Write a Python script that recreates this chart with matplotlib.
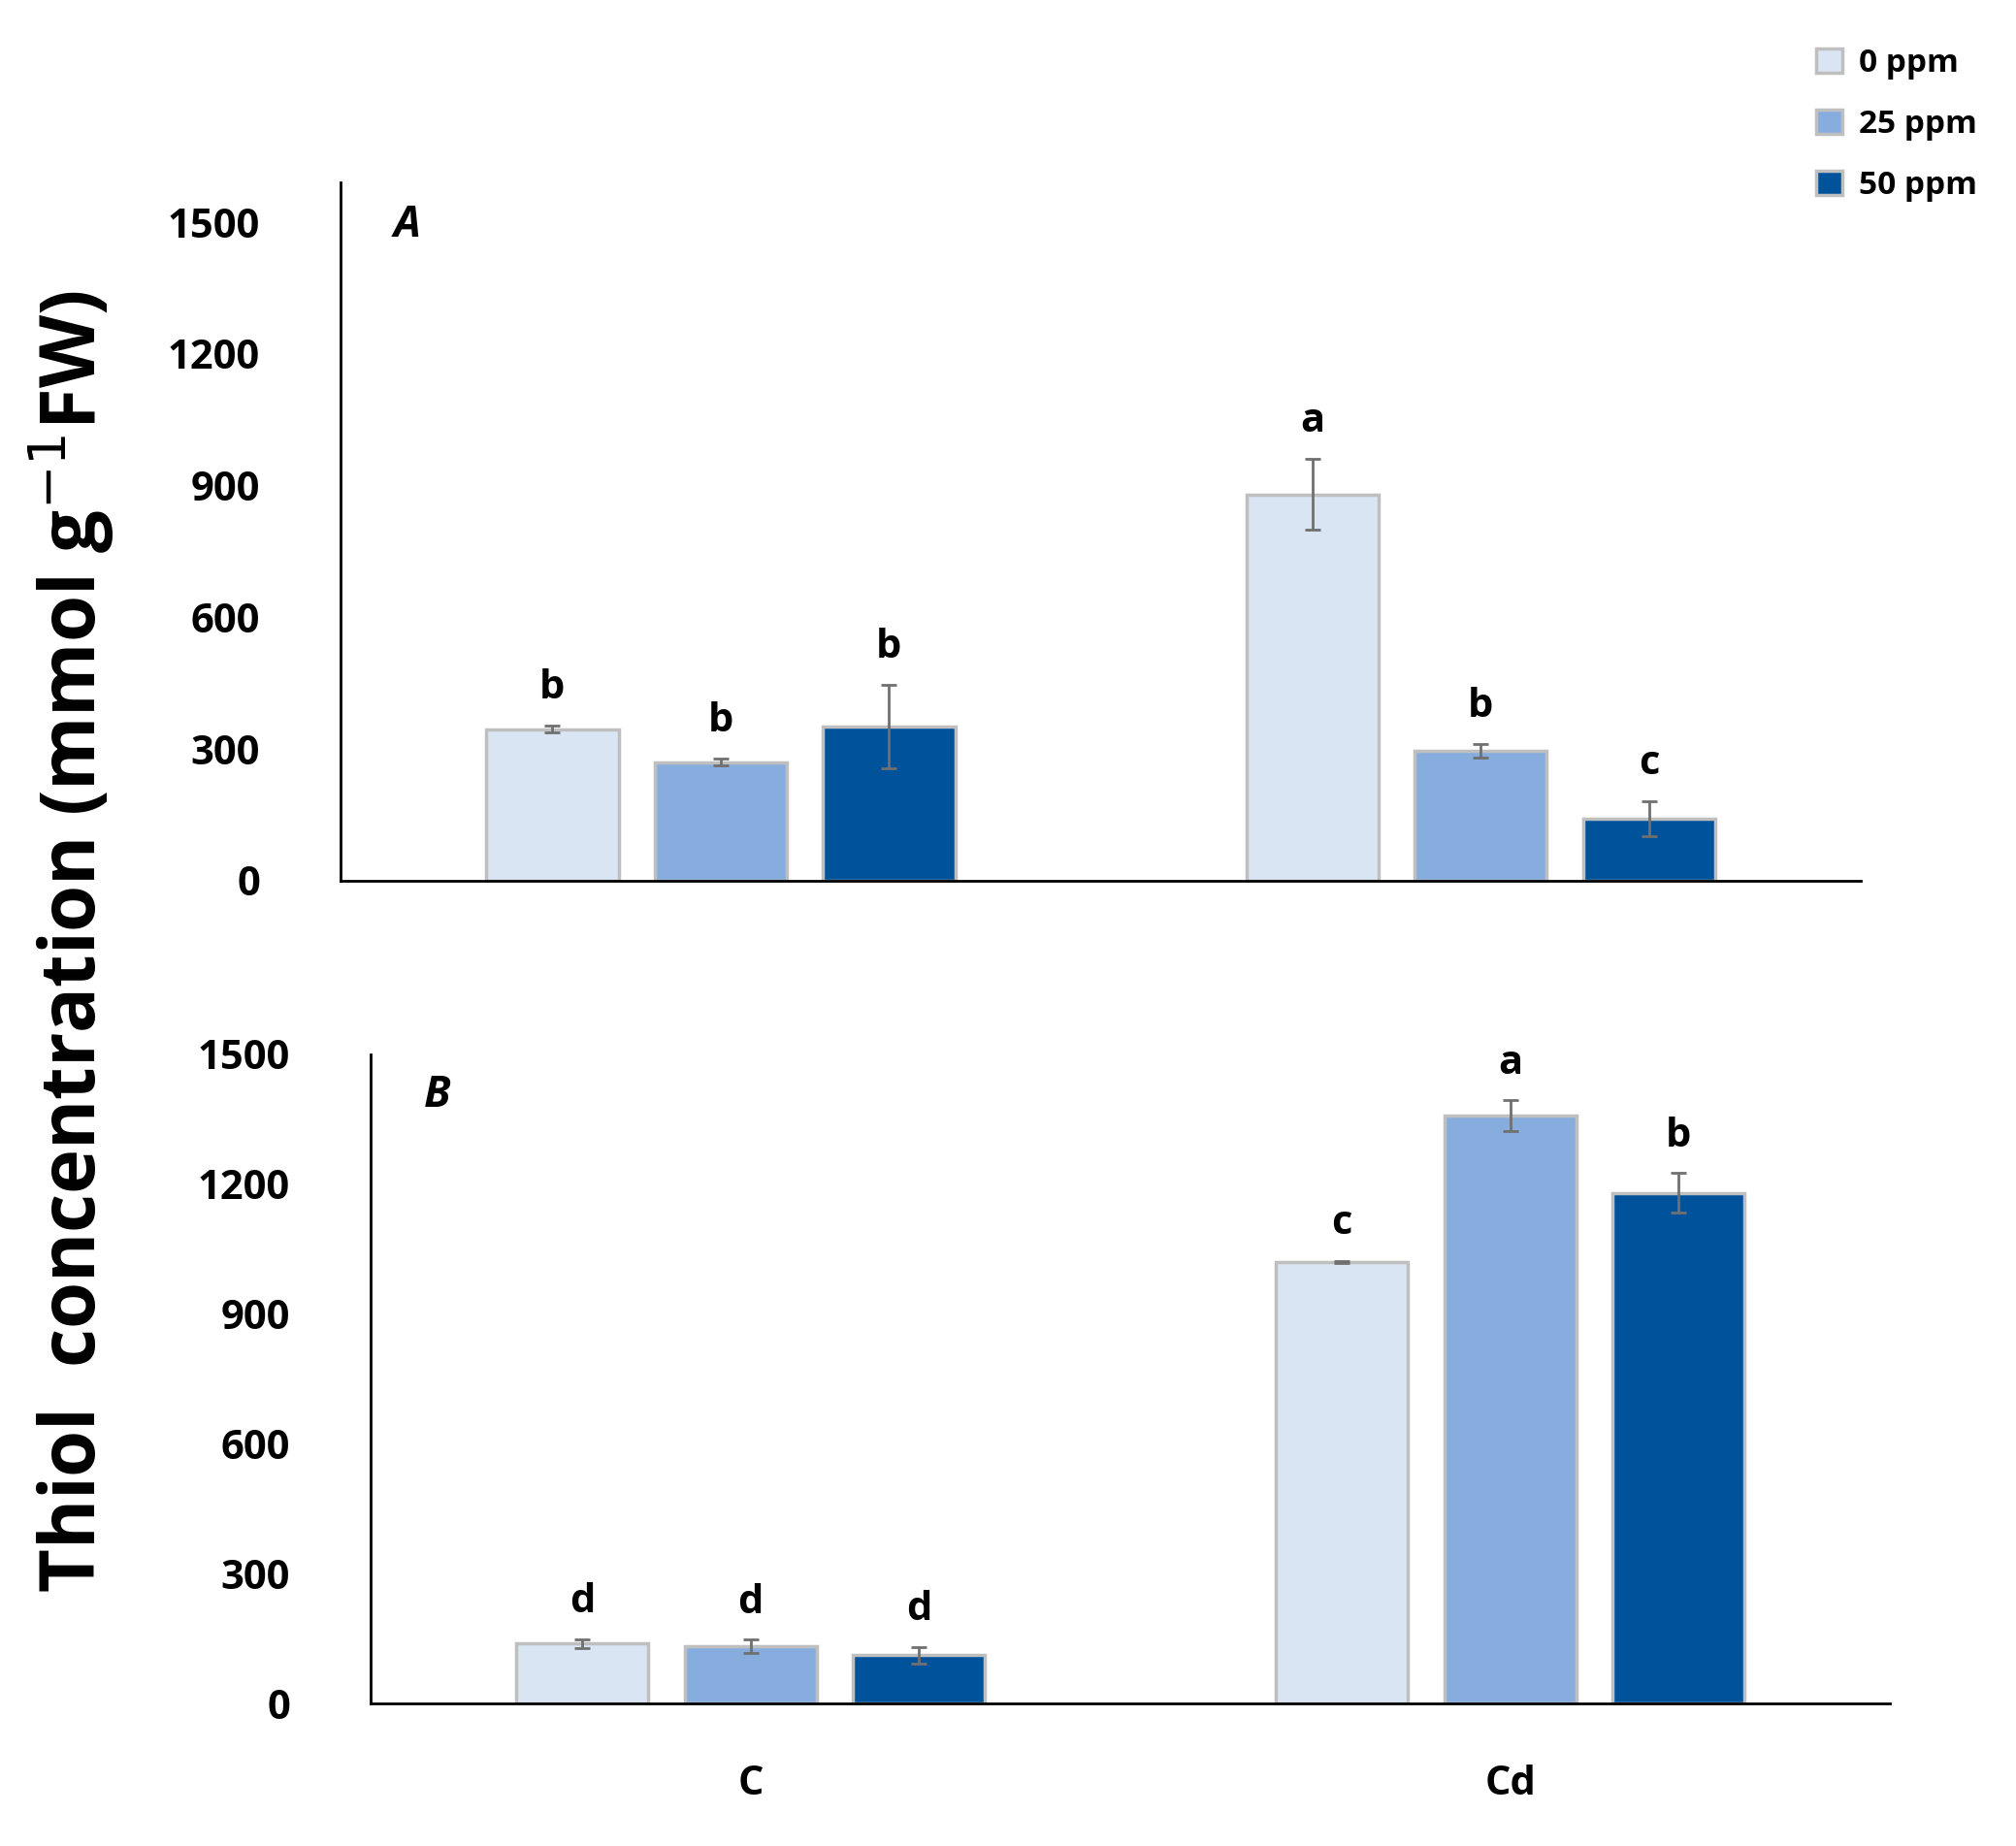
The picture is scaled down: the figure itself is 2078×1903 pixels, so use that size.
import matplotlib
matplotlib.use("Agg")
import matplotlib.pyplot as plt
import numpy as np

groups = ["C", "Cd"]
series = ["0 ppm", "25 ppm", "50 ppm"]
colors = ["#DAE5F4", "#87ADDF", "#00539B"]
A_vals = [[345, 880], [270, 295], [350, 140]]
A_err = [[8, 80], [8, 15], [95, 40]]
A_let = [["b", "a"], ["b", "b"], ["b", "c"]]
B_vals = [[139, 1020], [133, 1358], [112, 1180]]
B_err = [[10, 3], [15, 35], [20, 45]]
B_let = [["d", "c"], ["d", "a"], ["d", "b"]]
yticks = [0, 300, 600, 900, 1200, 1500]

FONT = "Open Sans"
fig = plt.figure(figsize=(20.78, 19.03), dpi=100)
axA = fig.add_axes([0.169, 0.523, 0.754, 0.378])
axB = fig.add_axes([0.184, 0.077, 0.7535, 0.352])

def draw(ax, vals, errs, lets, ymax, tag, showx):
    x = np.arange(len(groups))
    step, w = 0.2215, 0.174
    for i in range(3):
        xs = x + (i - 1) * step
        ax.bar(xs, vals[i], w, color=colors[i], edgecolor="#BFBFBF", linewidth=2.5,
               label=series[i], zorder=2)
        ax.errorbar(xs, vals[i], yerr=errs[i], fmt="none", ecolor="#707070",
                    elinewidth=2, capsize=6, capthick=2, zorder=3)
        for xx, v, e, l in zip(xs, vals[i], errs[i], lets[i]):
            ax.text(xx, v + e + 40, l, ha="center", va="bottom", fontsize=30,
                    fontweight="bold", family=FONT)
    ax.set_xlim(-0.5, 1.5)
    ax.set_ylim(0, ymax)
    ax.set_yticks(yticks)
    ax.set_yticklabels([str(t) for t in yticks], fontsize=30, fontweight="bold", family=FONT)
    ax.tick_params(axis="y", length=0, pad=60)
    for s in ["top", "right"]:
        ax.spines[s].set_visible(False)
    for s in ["left", "bottom"]:
        ax.spines[s].set_linewidth(2)
    if showx:
        ax.set_xticks(x)
        ax.set_xticklabels(groups, fontsize=30, fontweight="bold", family=FONT)
        ax.tick_params(axis="x", length=0, pad=45)
    else:
        ax.set_xticks([])
    ax.text(0.035, 0.97 if ymax > 1550 else 0.97, tag, transform=ax.transAxes, fontsize=32,
            fontweight="bold", style="italic", family=FONT, va="top")

draw(axA, A_vals, A_err, A_let, 1590, "A", False)
draw(axB, B_vals, B_err, B_let, 1500, "B", True)

h, l = axA.get_legend_handles_labels()
fig.legend(h, l, loc="upper right", bbox_to_anchor=(0.995, 0.99), frameon=False,
           prop={"family": FONT, "weight": "bold", "size": 24}, handlelength=0.8,
           handleheight=0.8, labelspacing=0.9, handletextpad=0.5)

fig.text(0.035, 0.49, "Thiol  concentration (mmol g$^{-1}$FW)", rotation=90,
         ha="center", va="center", fontsize=56, fontweight="bold", family=FONT)
fig.savefig("out.png", dpi=100)
